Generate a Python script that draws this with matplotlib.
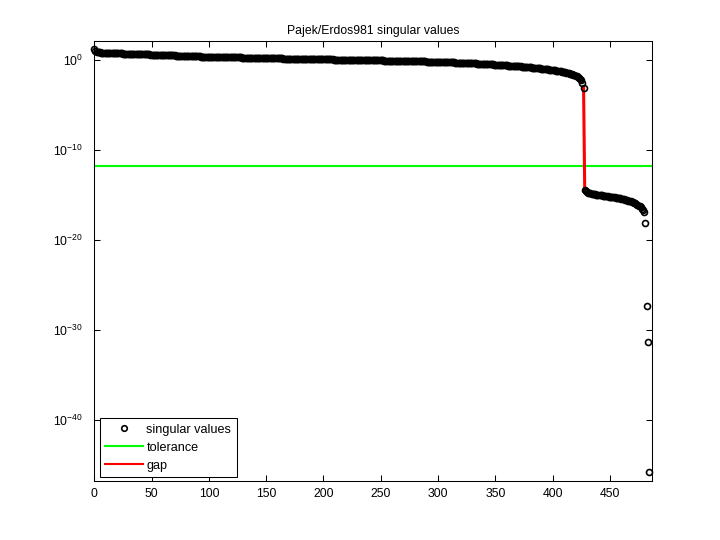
import numpy as np
import matplotlib
matplotlib.use("Agg")
import matplotlib.pyplot as plt
from matplotlib.lines import Line2D

plt.rcParams['font.family'] = ['Liberation Sans', 'DejaVu Sans']
plt.rcParams['mathtext.fontset'] = 'custom'
plt.rcParams['mathtext.rm'] = 'Liberation Sans'
plt.rcParams['axes.unicode_minus'] = False

title = "Pajek/Erdos981 singular values"
legend_labels = ["singular values", "tolerance", "gap"]

# log10 of singular values (index 0..427: upper part)
log_sv_upper = [
    1.25, 1.02, 0.95, 0.91, 0.88, 0.86, 0.84, 0.83, 0.82, 0.81, 0.80,
    0.80, 0.79, 0.79, 0.78, 0.78, 0.77, 0.77, 0.76, 0.76, 0.75,
    0.75, 0.75, 0.74, 0.74, 0.73, 0.73, 0.73, 0.72, 0.72, 0.71,
    0.71, 0.71, 0.70, 0.70, 0.69, 0.69, 0.68, 0.68, 0.67, 0.67,
    0.66, 0.66, 0.65, 0.65, 0.64, 0.64, 0.63, 0.63, 0.62, 0.62,
    0.61, 0.61, 0.60, 0.60, 0.59, 0.59, 0.58, 0.58, 0.57, 0.57,
    0.56, 0.56, 0.55, 0.55, 0.54, 0.54, 0.53, 0.53, 0.52, 0.52,
    0.51, 0.51, 0.50, 0.50, 0.49, 0.49, 0.48, 0.48, 0.47, 0.47,
    0.46, 0.46, 0.45, 0.45, 0.44, 0.44, 0.43, 0.43, 0.42, 0.42,
    0.41, 0.41, 0.40, 0.40, 0.40, 0.39, 0.39, 0.39, 0.38, 0.38,
    0.38, 0.37, 0.37, 0.37, 0.36, 0.36, 0.36, 0.35, 0.35, 0.35,
    0.34, 0.34, 0.34, 0.33, 0.33, 0.33, 0.32, 0.32, 0.32, 0.31,
    0.31, 0.31, 0.30, 0.30, 0.30, 0.29, 0.29, 0.29, 0.28, 0.28,
    0.28, 0.27, 0.27, 0.27, 0.26, 0.26, 0.26, 0.25, 0.25, 0.25,
    0.24, 0.24, 0.24, 0.23, 0.23, 0.23, 0.22, 0.22, 0.22, 0.21,
    0.21, 0.21, 0.20, 0.20, 0.20, 0.20, 0.19, 0.19, 0.19, 0.19,
    0.18, 0.18, 0.18, 0.18, 0.17, 0.17, 0.17, 0.17, 0.16, 0.16,
    0.16, 0.16, 0.15, 0.15, 0.15, 0.15, 0.14, 0.14, 0.14, 0.14,
    0.13, 0.13, 0.13, 0.13, 0.12, 0.12, 0.12, 0.12, 0.11, 0.11,
    0.11, 0.11, 0.10, 0.10, 0.10, 0.10, 0.09, 0.09, 0.09, 0.09,
    0.08, 0.08, 0.08, 0.08, 0.07, 0.07, 0.07, 0.07, 0.06, 0.06,
    0.06, 0.06, 0.05, 0.05, 0.05, 0.05, 0.04, 0.04, 0.04, 0.04,
    0.03, 0.03, 0.03, 0.03, 0.02, 0.02, 0.02, 0.02, 0.01, 0.01,
    0.01, 0.01, 0.00, 0.00, 0.00, 0.00, -0.01, -0.01, -0.01, -0.01,
    -0.02, -0.02, -0.02, -0.02, -0.03, -0.03, -0.03, -0.03, -0.04, -0.04,
    -0.04, -0.04, -0.05, -0.05, -0.05, -0.05, -0.06, -0.06, -0.06, -0.06,
    -0.07, -0.07, -0.07, -0.07, -0.08, -0.08, -0.08, -0.08, -0.09, -0.09,
    -0.09, -0.10, -0.10, -0.10, -0.11, -0.11, -0.11, -0.12, -0.12, -0.12,
    -0.13, -0.13, -0.13, -0.14, -0.14, -0.14, -0.15, -0.15, -0.15, -0.16,
    -0.16, -0.16, -0.17, -0.17, -0.17, -0.18, -0.18, -0.18, -0.19, -0.19,
    -0.20, -0.20, -0.21, -0.21, -0.22, -0.22, -0.23, -0.23, -0.24, -0.24,
    -0.25, -0.25, -0.26, -0.26, -0.27, -0.27, -0.28, -0.28, -0.29, -0.29,
    -0.30, -0.30, -0.31, -0.31, -0.32, -0.32, -0.33, -0.34, -0.34, -0.35,
    -0.36, -0.36, -0.37, -0.38, -0.38, -0.39, -0.40, -0.40, -0.41, -0.42,
    -0.43, -0.43, -0.44, -0.45, -0.46, -0.46, -0.47, -0.48, -0.49, -0.50,
    -0.51, -0.51, -0.52, -0.53, -0.54, -0.55, -0.56, -0.57, -0.58, -0.59,
    -0.60, -0.61, -0.62, -0.63, -0.64, -0.65, -0.66, -0.67, -0.68, -0.69,
    -0.70, -0.71, -0.72, -0.73, -0.74, -0.75, -0.77, -0.78, -0.79, -0.80,
    -0.82, -0.83, -0.84, -0.86, -0.87, -0.88, -0.90, -0.91, -0.93, -0.94,
    -0.96, -0.97, -0.99, -1.00, -1.02, -1.04, -1.05, -1.07, -1.09, -1.11,
    -1.13, -1.15, -1.17, -1.19, -1.21, -1.23, -1.26, -1.28, -1.31, -1.34,
    -1.37, -1.40, -1.43, -1.46, -1.50, -1.54, -1.58, -1.63, -1.68, -1.74,
    -1.80, -1.87, -1.95, -2.05, -2.20, -2.50, -3.05,
]

# index 428..480: lower cluster
log_sv_lower = [
    -14.40, -14.55, -14.65, -14.72, -14.78, -14.82, -14.85, -14.88, -14.90, -14.93,
    -14.95, -14.97, -14.99, -15.01, -15.03, -15.05, -15.07, -15.09, -15.11, -15.13,
    -15.15, -15.17, -15.19, -15.21, -15.23, -15.25, -15.27, -15.29, -15.31, -15.33,
    -15.35, -15.38, -15.41, -15.44, -15.47, -15.50, -15.54, -15.58, -15.62, -15.66,
    -15.71, -15.76, -15.81, -15.87, -15.93, -16.00, -16.08, -16.17, -16.27, -16.38,
    -16.50, -16.65, -16.85,
]

# index 481..484: outliers
log_sv_tail = [-18.1, -27.3, -31.3, -45.8]

tolerance = 1.7e-12
gap_index = 427

sv = 10.0 ** np.array(log_sv_upper + log_sv_lower + log_sv_tail)
idx = np.arange(len(sv))

fig = plt.figure(figsize=(7.2, 5.4), dpi=100)
ax = fig.add_axes([0.131, 0.11, 0.775, 0.814])

ax.set_yscale('log')
ax.plot(idx, sv, linestyle='none', marker='o', markersize=4.3,
        markerfacecolor='none', markeredgecolor='black', markeredgewidth=1.2,
        clip_on=False, zorder=3)
xmax = 487
ax.plot([0, xmax], [tolerance, tolerance], color=(0, 1, 0), linewidth=1.5, zorder=2)
ax.plot([idx[gap_index], idx[gap_index + 1]], [sv[gap_index], sv[gap_index + 1]],
        color=(1, 0, 0), linewidth=2.2, zorder=2)

ax.set_xlim(0, xmax)
ax.set_ylim(10 ** -46.75, 10 ** 2.12)
ax.set_xticks(np.arange(0, 451, 50))
ax.set_yticks([1e0, 1e-10, 1e-20, 1e-30, 1e-40])
ax.yaxis.set_minor_locator(matplotlib.ticker.NullLocator())
ax.tick_params(direction='in', top=True, right=True, length=4, width=0.75,
               labelsize=8.8)
ax.tick_params(axis='y', pad=8)
ax.tick_params(axis='x', pad=5)
for s in ax.spines.values():
    s.set_linewidth(0.75)

ax.set_title(title, fontsize=8.8, pad=5)

handles = [
    Line2D([], [], linestyle='none', marker='o', markersize=4.0,
           markerfacecolor='none', markeredgecolor='black', markeredgewidth=1.2),
    Line2D([], [], color=(0, 1, 0), linewidth=1.5),
    Line2D([], [], color=(1, 0, 0), linewidth=1.5),
]
leg = ax.legend(handles, legend_labels, loc='lower left',
                bbox_to_anchor=(0.0102, 0.0084), borderaxespad=0,
                fontsize=9.1, handlelength=2.95, handletextpad=0.3,
                labelspacing=0.47, borderpad=0.42, fancybox=False,
                framealpha=1, edgecolor='black')
leg.get_frame().set_linewidth(0.75)

fig.savefig("out.png", dpi=100, facecolor='white')
